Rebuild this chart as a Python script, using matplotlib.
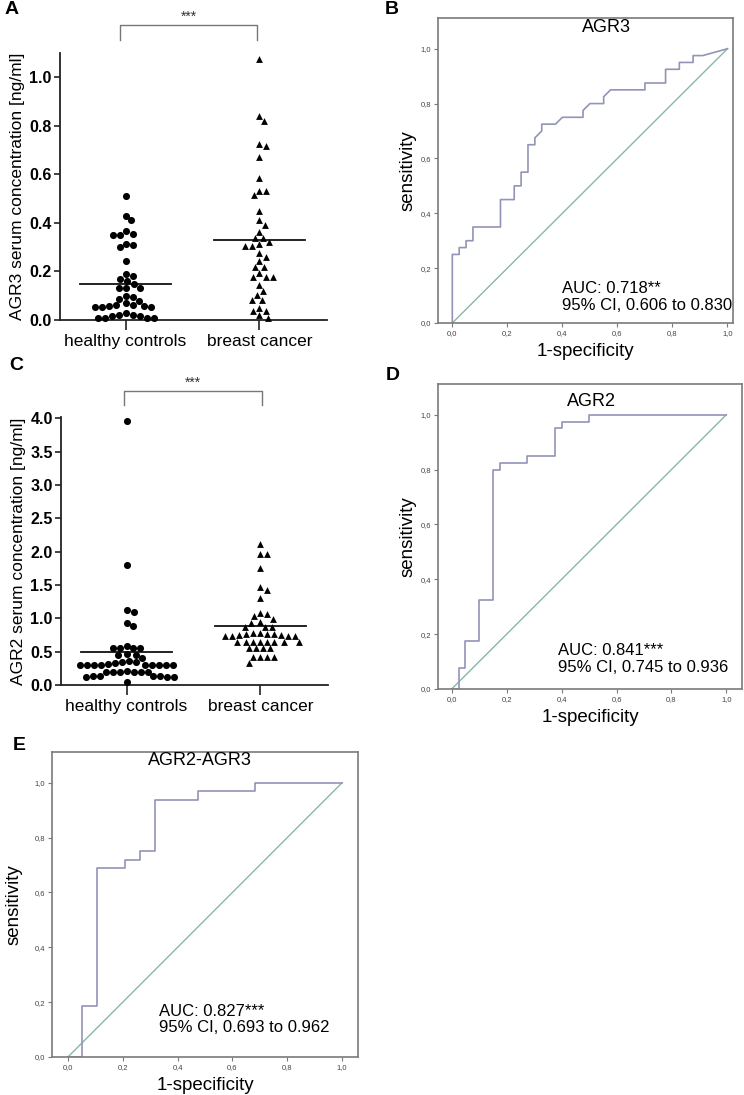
import numpy as np
import matplotlib
matplotlib.use('Agg')
import matplotlib.pyplot as plt
from matplotlib.ticker import FuncFormatter

plt.rcParams['font.family'] = ['Liberation Sans', 'DejaVu Sans']

groups = ['healthy controls', 'breast cancer']

# serum concentrations [ng/ml]
agr3_healthy = [0.51, 0.43, 0.41, 0.365, 0.355, 0.35, 0.35, 0.315, 0.31, 0.30, 0.245,
                0.19, 0.18, 0.17, 0.16, 0.15, 0.13, 0.13, 0.13, 0.10, 0.093, 0.087, 0.077,
                0.068, 0.062, 0.058, 0.055, 0.055, 0.055, 0.058, 0.062,
                0.027, 0.02, 0.015, 0.01, 0.008, 0.008, 0.01, 0.015, 0.022]
agr3_cancer = [1.075, 0.84, 0.818, 0.726, 0.715, 0.673, 0.587, 0.532, 0.532, 0.513,
               0.451, 0.412, 0.392, 0.362, 0.338, 0.338, 0.32, 0.312, 0.306, 0.306,
               0.275, 0.261, 0.243, 0.22, 0.22, 0.192, 0.179, 0.179, 0.179, 0.144,
               0.118, 0.103, 0.082, 0.082, 0.05, 0.037, 0.037, 0.02, 0.01]
agr3_lines = [0.15, 0.33]

agr2_healthy = [3.96, 1.80, 1.12, 1.10, 0.93, 0.89, 0.59, 0.55, 0.55, 0.55, 0.55,
                0.46, 0.45, 0.45, 0.40, 0.36, 0.35, 0.34, 0.33, 0.31,
                0.30, 0.30, 0.30, 0.30, 0.30, 0.30, 0.30, 0.30, 0.30,
                0.21, 0.20, 0.20, 0.20, 0.20, 0.20, 0.19,
                0.13, 0.13, 0.12, 0.12, 0.12, 0.13, 0.13, 0.04]
agr2_cancer = [2.12, 1.96, 1.96, 1.76, 1.47, 1.43, 1.30, 1.08, 1.06, 1.03, 0.99, 0.95,
               0.93, 0.875, 0.875, 0.875, 0.78, 0.77, 0.76, 0.75, 0.74, 0.74, 0.74,
               0.74, 0.75, 0.76, 0.78, 0.65, 0.65, 0.65, 0.65, 0.65, 0.65, 0.65, 0.65,
               0.55, 0.55, 0.55, 0.55, 0.42, 0.42, 0.42, 0.42, 0.33]
agr2_lines = [0.50, 0.89]

# ROC curves (1-specificity, sensitivity)
roc_agr3_fpr = [0, 0, 0.025, 0.025, 0.05, 0.05, 0.075, 0.075, 0.175, 0.175, 0.225, 0.225,
                0.25, 0.25, 0.275, 0.275, 0.30, 0.30, 0.325, 0.325, 0.375, 0.40, 0.475,
                0.475, 0.50, 0.55, 0.55, 0.575, 0.70, 0.70, 0.775, 0.775, 0.825, 0.825,
                0.875, 0.875, 0.91, 1.0]
roc_agr3_tpr = [0, 0.25, 0.25, 0.275, 0.275, 0.30, 0.30, 0.35, 0.35, 0.45, 0.45, 0.50,
                0.50, 0.55, 0.55, 0.65, 0.65, 0.675, 0.70, 0.725, 0.725, 0.75, 0.75,
                0.775, 0.80, 0.80, 0.825, 0.85, 0.85, 0.875, 0.875, 0.925, 0.925, 0.95,
                0.95, 0.975, 0.975, 1.0]
roc_agr2_fpr = [0, 0.025, 0.025, 0.05, 0.05, 0.10, 0.10, 0.15, 0.15, 0.175, 0.175, 0.275,
                0.275, 0.375, 0.375, 0.40, 0.40, 0.50, 0.50, 1.0]
roc_agr2_tpr = [0, 0, 0.075, 0.075, 0.175, 0.175, 0.325, 0.325, 0.80, 0.80, 0.825, 0.825,
                0.85, 0.85, 0.95, 0.95, 0.975, 0.975, 1.0, 1.0]
roc_comb_fpr = [0, 0.053, 0.053, 0.105, 0.105, 0.21, 0.21, 0.263, 0.263, 0.316, 0.316,
                0.474, 0.474, 0.684, 0.684, 1.0]
roc_comb_tpr = [0, 0, 0.1875, 0.1875, 0.6875, 0.6875, 0.72, 0.72, 0.75, 0.75, 0.9375,
                0.9375, 0.97, 0.97, 1.0, 1.0]

auc_texts = ['AUC: 0.718**\n95% CI, 0.606 to 0.830',
             'AUC: 0.841***\n95% CI, 0.745 to 0.936',
             'AUC: 0.827***\n95% CI, 0.693 to 0.962']

ROC_COLOR = '#9294b8'
DIAG_COLOR = '#86b8aa'
BOX_COLOR = '#7a7a7a'

W, H = 744, 1095
fig = plt.figure(figsize=(W / 100, H / 100), dpi=100)


def px_axes(left, top, right, bottom):
    return fig.add_axes([left / W, 1 - bottom / H, (right - left) / W, (bottom - top) / H])


def swarm_offsets(ax, values, diameter=7.0, step=0.5):
    # greedy beeswarm in pixel space, offsets returned in data units
    bbox = ax.get_window_extent()
    x0, x1 = ax.get_xlim()
    y0, y1 = ax.get_ylim()
    sx = bbox.width / (x1 - x0)
    sy = bbox.height / (y1 - y0)
    vals = np.asarray(values, dtype=float)
    cands = np.arange(0, 120, step)
    cands = np.ravel(np.column_stack([cands, -cands]))[1:]
    placed = []
    offs = np.zeros(len(vals))
    for i in np.argsort(-vals, kind='stable'):
        py = vals[i] * sy
        for c in cands:
            if all((c - qx) ** 2 + (py - qy) ** 2 >= diameter ** 2 for qx, qy in placed):
                break
        placed.append((c, py))
        offs[i] = c / sx
    return offs


def dot_panel(ax, healthy, cancer, lines, ylim, yticks, ylabel, brk):
    ax.set_xlim(-0.49, 1.505)
    ax.set_ylim(*ylim)
    for s in ['top', 'right']:
        ax.spines[s].set_visible(False)
    for s in ['left', 'bottom']:
        ax.spines[s].set_linewidth(1.3)
        ax.spines[s].set_color('#222222')
    for pos, vals, mk, sz in [(0, healthy, 'o', 26), (1, cancer, '^', 24)]:
        offs = swarm_offsets(ax, vals)
        ax.scatter(pos + offs, vals, s=sz, marker=mk, color='black', linewidths=0,
                   clip_on=False, zorder=3)
        ax.plot([pos - 0.34, pos + 0.34], [lines[pos], lines[pos]], color='#111111',
                lw=1.3, zorder=2)
    ax.set_yticks(yticks)
    ax.set_yticklabels([f'{t:.1f}' for t in yticks], fontsize=11.5, fontweight='bold')
    ax.set_xticks([0, 1])
    ax.set_xticklabels(groups, fontsize=12.5)
    ax.tick_params(axis='y', length=4, width=1.2, pad=2, color='#222222')
    ax.tick_params(axis='x', length=7, width=1.2, pad=3, color='#222222')
    ax.set_ylabel(ylabel, fontsize=12.5, labelpad=3)
    # significance bracket
    bx0, bx1, btop, bbot, bstar = brk
    ax.plot([bx0, bx0, bx1, bx1], [bbot, btop, btop, bbot], color='#777777', lw=1.0,
            clip_on=False)
    ax.text((bx0 + bx1) / 2, bstar, '***', ha='center', va='center', fontsize=10,
            color='#333333')


def roc_panel(ax, fpr, tpr, xlim, title, title_xy, auc, auc_xy, ypad=3):
    ax.plot([0, 1], [0, 1], color=DIAG_COLOR, lw=1.0)
    ax.plot(fpr, tpr, color=ROC_COLOR, lw=1.2)
    ax.set_xlim(*xlim)
    ax.set_ylim(0, 1.112)
    ticks = np.arange(0, 1.01, 0.2)
    ax.set_xticks(ticks)
    ax.set_yticks(ticks)
    fmt = FuncFormatter(lambda v, p: f'{v:.1f}'.replace('.', ','))
    ax.xaxis.set_major_formatter(fmt)
    ax.yaxis.set_major_formatter(fmt)
    ax.tick_params(length=3, width=0.8, color=BOX_COLOR, labelsize=5.5, labelcolor='#444444', pad=2)
    for s in ax.spines.values():
        s.set_color(BOX_COLOR)
        s.set_linewidth(1.2)
    ax.set_xlabel('1-specificity', fontsize=13.5, labelpad=4)
    ax.set_ylabel('sensitivity', fontsize=13.5, labelpad=ypad)
    ax.text(title_xy[0], title_xy[1], title, ha='center', va='center', fontsize=13)
    ax.text(auc_xy[0], auc_xy[1], auc, ha='left', va='center', fontsize=12, linespacing=1.15)


ax_a = px_axes(60, 53, 327, 320)
dot_panel(ax_a, agr3_healthy, agr3_cancer, agr3_lines, (0, 1.1), np.arange(0, 1.01, 0.2),
          'AGR3 serum concentration [ng/ml]', (-0.04, 0.985, 1.216, 1.155, 1.25))

ax_c = px_axes(61, 417, 328, 685)
dot_panel(ax_c, agr2_healthy, agr2_cancer, agr2_lines, (0, 4.02), np.arange(0, 4.01, 0.5),
          'AGR2 serum concentration [ng/ml]', (-0.02, 1.01, 4.41, 4.20, 4.53))

ax_b = px_axes(438, 18, 733, 323)
roc_panel(ax_b, roc_agr3_fpr, roc_agr3_tpr, (-0.052, 1.02), 'AGR3', (0.56, 1.078),
          auc_texts[0], (0.40, 0.096))

ax_d = px_axes(438, 384, 742, 689)
roc_panel(ax_d, roc_agr2_fpr, roc_agr2_tpr, (-0.05, 1.057), 'AGR2', (0.51, 1.05),
          auc_texts[1], (0.386, 0.108))

ax_e = px_axes(52, 752, 358, 1057)
roc_panel(ax_e, roc_comb_fpr, roc_comb_tpr, (-0.058, 1.058), 'AGR2-AGR3', (0.48, 1.08),
          auc_texts[2], (0.334, 0.137), ypad=9)

for letter, x, y in [('A', 12, 10), ('B', 392, 9), ('C', 16, 366), ('D', 393, 375), ('E', 19, 745)]:
    fig.text(x / W, 1 - y / H, letter, ha='center', va='center', fontsize=14, fontweight='bold')

fig.savefig('out.png', dpi=100)
